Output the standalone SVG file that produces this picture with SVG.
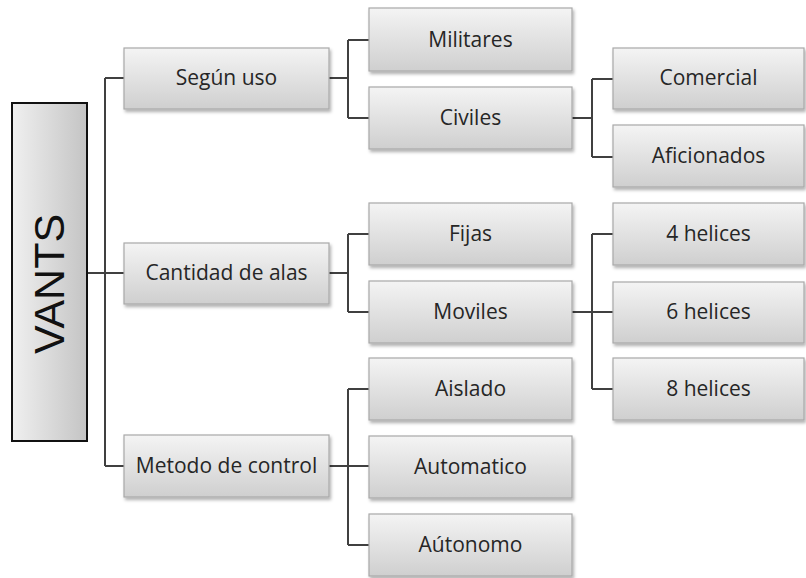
<svg xmlns="http://www.w3.org/2000/svg" width="806" height="578" viewBox="0 0 806 578">
<defs>
<linearGradient id="gBox" x1="0" y1="0" x2="0" y2="1">
<stop offset="0" stop-color="#f4f4f4"/>
<stop offset="1" stop-color="#cfcfcf"/>
</linearGradient>
<linearGradient id="gRoot" x1="0" y1="0" x2="1" y2="0">
<stop offset="0" stop-color="#f0f0f0"/>
<stop offset="1" stop-color="#c4c4c4"/>
</linearGradient>
<filter id="sh" x="-10%" y="-20%" width="120%" height="150%">
<feDropShadow dx="1.5" dy="2.5" stdDeviation="1.5" flood-color="#000" flood-opacity="0.3"/>
</filter>
</defs>
<style>
.box{fill:url(#gBox);stroke:#a8a8a8;stroke-width:1.2;filter:url(#sh)}
.root{fill:url(#gRoot);stroke:#111;stroke-width:2}
.t{font-family:"Open Sans","Liberation Sans",Arial,sans-serif;font-size:21px;fill:#262626;text-anchor:middle}
.rt{font-family:"Liberation Sans",Arial,sans-serif;font-size:43px;fill:#111;text-anchor:middle}
.c{fill:none;stroke:#404040;stroke-width:2}
</style>
<rect width="806" height="578" fill="#fff"/>
<g id="connectors">
<path class="c" d="M87 273H124M105 78V466M105 78H124M105 466H124"/>
<path class="c" d="M329 78H348M348 40V118M348 40H369M348 118H369"/>
<path class="c" d="M329 273H348M348 234V312M348 234H369M348 312H369"/>
<path class="c" d="M329 466H369M348 389V545M348 389H369M348 545H369"/>
<path class="c" d="M572 118H592M592 79V157M592 79H613M592 157H613"/>
<path class="c" d="M572 312H613M592 234V389M592 234H613M592 389H613"/>
</g>
<g id="vants"><rect class="root" x="12" y="103" width="75" height="338"/><text class="rt" transform="translate(64 284) rotate(-90)">VANTS</text></g>
<g id="segun"><rect class="box" x="124" y="48" width="205" height="61"/><text class="t" x="226.5" y="85">Según uso</text></g>
<g id="cantidad"><rect class="box" x="124" y="243" width="205" height="61"/><text class="t" x="226.5" y="280">Cantidad de alas</text></g>
<g id="metodo"><rect class="box" x="124" y="435" width="205" height="62"/><text class="t" x="226.5" y="473">Metodo de control</text></g>
<g id="militares"><rect class="box" x="369" y="8" width="203" height="63"/><text class="t" x="470.5" y="47">Militares</text></g>
<g id="civiles"><rect class="box" x="369" y="87" width="203" height="62"/><text class="t" x="470.5" y="125">Civiles</text></g>
<g id="fijas"><rect class="box" x="369" y="203" width="203" height="62"/><text class="t" x="470.5" y="241">Fijas</text></g>
<g id="moviles"><rect class="box" x="369" y="281" width="203" height="62"/><text class="t" x="470.5" y="319">Moviles</text></g>
<g id="aislado"><rect class="box" x="369" y="358" width="203" height="62"/><text class="t" x="470.5" y="396">Aislado</text></g>
<g id="automatico"><rect class="box" x="369" y="436" width="203" height="62"/><text class="t" x="470.5" y="474">Automatico</text></g>
<g id="autonomo"><rect class="box" x="369" y="514" width="203" height="62"/><text class="t" x="470.5" y="552">Aútonomo</text></g>
<g id="comercial"><rect class="box" x="613" y="48" width="191" height="61"/><text class="t" x="708.5" y="85">Comercial</text></g>
<g id="aficionados"><rect class="box" x="613" y="125" width="191" height="62"/><text class="t" x="708.5" y="163">Aficionados</text></g>
<g id="h4"><rect class="box" x="613" y="203" width="191" height="62"/><text class="t" x="708.5" y="241">4 helices</text></g>
<g id="h6"><rect class="box" x="613" y="282" width="191" height="61"/><text class="t" x="708.5" y="319">6 helices</text></g>
<g id="h8"><rect class="box" x="613" y="358" width="191" height="62"/><text class="t" x="708.5" y="396">8 helices</text></g>
</svg>
